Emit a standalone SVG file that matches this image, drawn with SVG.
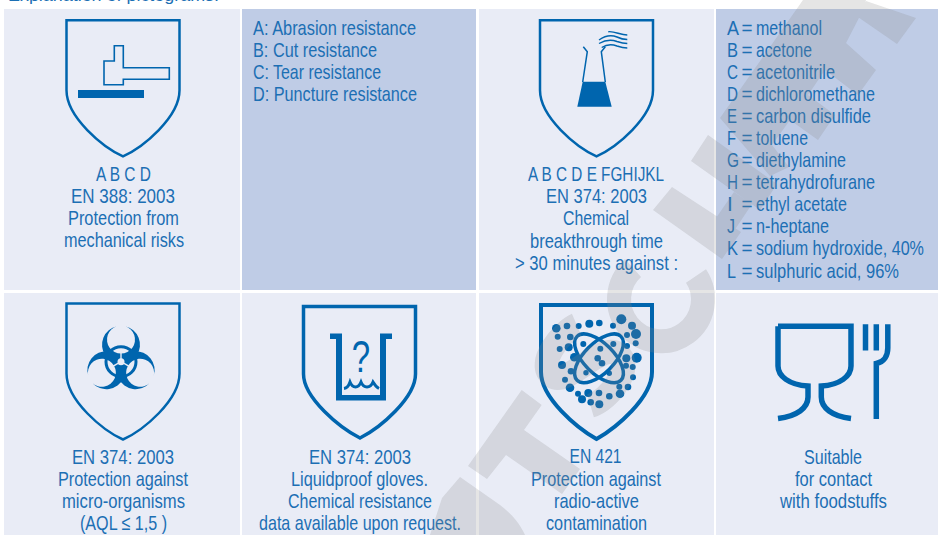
<svg xmlns="http://www.w3.org/2000/svg" width="938" height="535" viewBox="0 0 938 535">
<style>
text{font-family:"Liberation Sans",Arial,sans-serif;font-size:21px;fill:#1c6fb4;font-weight:400}
.m{text-anchor:middle}
.hd{font-size:16px}
.l{fill:#e9ecf6}.d{fill:#bfcce6}
.b{fill:#0065ae;stroke:none}
.o{fill:none;stroke:#0065ae}
.sh{fill:none;stroke:#0065ae;stroke-width:2.5}
.wm{fill:#888}
.ws{fill:none;stroke:#888;stroke-width:24}
</style>
<defs>
<path id="shield" d="M-56.5,0H56.5V70C56.5,97 20,127 0,136C-20,127 -56.5,97 -56.5,70Z"/>
<path id="lobe" d="M-4,-35.500A19,19 0 1 0 4,-35.500A14,14 0 1 1 -4,-35.500Z"/>
</defs>
<rect width="938" height="535" fill="#fff"/>
<text class="hd" x="8" y="1" textLength="211" lengthAdjust="spacingAndGlyphs">Explanation of pictograms:</text>
<g id="cells">
<rect class="l" x="4" y="9" width="236" height="281"/>
<rect class="d" x="242" y="9" width="234" height="281"/>
<rect class="l" x="479" y="9" width="235" height="281"/>
<rect class="d" x="716" y="9" width="222" height="281"/>
<rect class="l" x="4" y="293" width="236" height="242"/>
<rect class="l" x="242" y="293" width="234" height="242"/>
<rect class="l" x="479" y="293" width="235" height="242"/>
<rect class="l" x="716" y="293" width="222" height="242"/>
</g>
<g id="node-mechanical">
<use href="#shield" class="sh" x="123" y="20.300"/>
<path class="o" stroke-width="1.600" d="M114.300,45.700H123.300V67.700H169.300V79.300H123.300V84.700H104V61H114.300Z"/>
<rect class="b" x="78" y="90" width="66" height="8"/>
<text class="m" x="123.500" y="181" textLength="55" lengthAdjust="spacingAndGlyphs">A B C D</text>
<text class="m" x="123" y="203" textLength="104" lengthAdjust="spacingAndGlyphs">EN 388: 2003</text>
<text class="m" x="123.500" y="225" textLength="111" lengthAdjust="spacingAndGlyphs">Protection from</text>
<text class="m" x="124" y="247" textLength="120" lengthAdjust="spacingAndGlyphs">mechanical risks</text>
</g>
<g id="node-mechanical-legend">
<text x="253" y="35" textLength="163" lengthAdjust="spacingAndGlyphs">A: Abrasion resistance</text>
<text x="253" y="57" textLength="124" lengthAdjust="spacingAndGlyphs">B: Cut resistance</text>
<text x="253" y="79" textLength="128" lengthAdjust="spacingAndGlyphs">C: Tear resistance</text>
<text x="253" y="101" textLength="164" lengthAdjust="spacingAndGlyphs">D: Puncture resistance</text>
</g>
<g id="node-chemical">
<use href="#shield" class="sh" x="596.500" y="20.300"/>
<path class="b" d="M582.700,81.700H605.300L611.700,106.700H577.300Z"/>
<path class="o" stroke-width="1.500" d="M582.700,82L587.300,51.700L583.300,46.700M605.300,82L601.300,51.700L605.300,46.700"/>
<path class="o" stroke-width="1.400" d="M608.300,31.700C615,31 620,35 627.300,35M599,40C606,35 612,35 617,37C620,38.500 624,39.500 627.300,39.500M599,43.500C606,39.500 612,39.500 617,41.500C620,42.500 624,43.500 627.300,43.500M601.700,47.500C607,44 612,44 617,46C620,47 624,48 627.300,48"/>
<text class="m" x="596" y="181" textLength="136" lengthAdjust="spacingAndGlyphs">A B C D E FGHIJKL</text>
<text class="m" x="596.500" y="203" textLength="101" lengthAdjust="spacingAndGlyphs">EN 374: 2003</text>
<text class="m" x="596" y="225" textLength="66" lengthAdjust="spacingAndGlyphs">Chemical</text>
<text class="m" x="596.500" y="247.500" textLength="133" lengthAdjust="spacingAndGlyphs">breakthrough time</text>
<text class="m" x="596.500" y="269.500" textLength="163" lengthAdjust="spacingAndGlyphs">&gt; 30 minutes against :</text>
</g>
<g id="node-chemical-legend">
<text x="727" y="35" textLength="12" lengthAdjust="spacingAndGlyphs">A</text><text x="741.500" y="35" textLength="11" lengthAdjust="spacingAndGlyphs">=</text><text x="756" y="35" textLength="66" lengthAdjust="spacingAndGlyphs">methanol</text>
<text x="727" y="57" textLength="11" lengthAdjust="spacingAndGlyphs">B</text><text x="741.500" y="57" textLength="11" lengthAdjust="spacingAndGlyphs">=</text><text x="756" y="57" textLength="56" lengthAdjust="spacingAndGlyphs">acetone</text>
<text x="727" y="79" textLength="11" lengthAdjust="spacingAndGlyphs">C</text><text x="741.500" y="79" textLength="11" lengthAdjust="spacingAndGlyphs">=</text><text x="756" y="79" textLength="79" lengthAdjust="spacingAndGlyphs">acetonitrile</text>
<text x="727" y="101" textLength="11" lengthAdjust="spacingAndGlyphs">D</text><text x="741.500" y="101" textLength="11" lengthAdjust="spacingAndGlyphs">=</text><text x="756" y="101" textLength="119" lengthAdjust="spacingAndGlyphs">dichloromethane</text>
<text x="727" y="123" textLength="10" lengthAdjust="spacingAndGlyphs">E</text><text x="741.500" y="123" textLength="11" lengthAdjust="spacingAndGlyphs">=</text><text x="756" y="123" textLength="115" lengthAdjust="spacingAndGlyphs">carbon disulfide</text>
<text x="727" y="145" textLength="9" lengthAdjust="spacingAndGlyphs">F</text><text x="741.500" y="145" textLength="11" lengthAdjust="spacingAndGlyphs">=</text><text x="756" y="145" textLength="52" lengthAdjust="spacingAndGlyphs">toluene</text>
<text x="727" y="167" textLength="12" lengthAdjust="spacingAndGlyphs">G</text><text x="741.500" y="167" textLength="11" lengthAdjust="spacingAndGlyphs">=</text><text x="756" y="167" textLength="90" lengthAdjust="spacingAndGlyphs">diethylamine</text>
<text x="727" y="189" textLength="11" lengthAdjust="spacingAndGlyphs">H</text><text x="741.500" y="189" textLength="11" lengthAdjust="spacingAndGlyphs">=</text><text x="756" y="189" textLength="119" lengthAdjust="spacingAndGlyphs">tetrahydrofurane</text>
<text x="727" y="211">I</text><text x="741.500" y="211" textLength="11" lengthAdjust="spacingAndGlyphs">=</text><text x="756" y="211" textLength="91" lengthAdjust="spacingAndGlyphs">ethyl acetate</text>
<text x="727" y="233" textLength="8" lengthAdjust="spacingAndGlyphs">J</text><text x="741.500" y="233" textLength="11" lengthAdjust="spacingAndGlyphs">=</text><text x="756" y="233" textLength="73" lengthAdjust="spacingAndGlyphs">n-heptane</text>
<text x="727" y="255" textLength="11" lengthAdjust="spacingAndGlyphs">K</text><text x="741.500" y="255" textLength="11" lengthAdjust="spacingAndGlyphs">=</text><text x="756" y="255" textLength="168" lengthAdjust="spacingAndGlyphs">sodium hydroxide, 40%</text>
<text x="727" y="278" textLength="9" lengthAdjust="spacingAndGlyphs">L</text><text x="741.500" y="278" textLength="11" lengthAdjust="spacingAndGlyphs">=</text><text x="756" y="278" textLength="143" lengthAdjust="spacingAndGlyphs">sulphuric acid, 96%</text>
</g>
<g id="node-micro">
<use href="#shield" class="sh" x="123" y="303.500"/>
<g transform="translate(121,361.700)">
<use href="#lobe" class="b"/>
<use href="#lobe" class="b" transform="rotate(120)"/>
<use href="#lobe" class="b" transform="rotate(240)"/>
<circle r="15" class="o" stroke-width="3"/>
<g fill="#e9ecf6"><circle r="3.500"/>
<path d="M-.7,0V-10H.7V0Z"/><path d="M-.7,0V-10H.7V0Z" transform="rotate(120)"/><path d="M-.7,0V-10H.7V0Z" transform="rotate(240)"/></g>
</g>
<text class="m" x="123" y="464" textLength="102" lengthAdjust="spacingAndGlyphs">EN 374: 2003</text>
<text class="m" x="123" y="486" textLength="130" lengthAdjust="spacingAndGlyphs">Protection against</text>
<text class="m" x="123.500" y="508" textLength="123" lengthAdjust="spacingAndGlyphs">micro-organisms</text>
<text class="m" x="123.500" y="530" textLength="87" lengthAdjust="spacingAndGlyphs">(AQL ≤ 1,5 )</text>
</g>
<g id="node-liquidproof">
<path class="o" stroke-width="3.500" d="M303.500,306.500H415.500V374C415.500,398 380,428 360,438C340,428 303.500,398 303.500,374Z"/>
<path class="b" d="M330,333.500H342V395H380V333.500H392V339H386V400.500H336V339H330Z"/>
<text transform="translate(361,372) scale(.75,1)" class="m" style="font-size:44px;fill:#0065ae">?</text>
<path class="o" stroke-width="3" d="M344,388.500Q348,388 350,382Q352,387 355.500,387Q359,387 361,382Q363,387 367,387Q371,387 373,382Q376,387 379,388.500"/>
<text class="m" x="360" y="464" textLength="102" lengthAdjust="spacingAndGlyphs">EN 374: 2003</text>
<text class="m" x="359.500" y="486" textLength="137" lengthAdjust="spacingAndGlyphs">Liquidproof gloves.</text>
<text class="m" x="360" y="508" textLength="144" lengthAdjust="spacingAndGlyphs">Chemical resistance</text>
<text class="m" x="360" y="530" textLength="202" lengthAdjust="spacingAndGlyphs">data available upon request.</text>
</g>
<g id="node-radiation">
<path class="o" stroke-width="4" d="M541,305H652V372C652,398 616,428 596.500,439C577,428 541,398 541,372Z"/>
<g class="b">
<circle cx="556.300" cy="328.300" r="4.300"/><circle cx="557.700" cy="336.700" r="3"/><circle cx="567" cy="326" r="3.300"/><circle cx="578.700" cy="326" r="3"/><circle cx="589.300" cy="323.700" r="4"/><circle cx="599.300" cy="323" r="3.300"/><circle cx="613" cy="325.700" r="3"/><circle cx="621.300" cy="319.300" r="5"/><circle cx="632" cy="325.700" r="4"/><circle cx="636" cy="334" r="5"/><circle cx="627" cy="335" r="3"/><circle cx="635.700" cy="343.300" r="3"/><circle cx="627" cy="346" r="3"/><circle cx="636.700" cy="357.700" r="5"/><circle cx="626.300" cy="358.300" r="4"/><circle cx="626" cy="365.700" r="3"/><circle cx="632.700" cy="367" r="3"/><circle cx="633" cy="377.300" r="3"/><circle cx="628" cy="387" r="3.300"/><circle cx="619.300" cy="386.700" r="3"/><circle cx="620" cy="393.700" r="4.300"/><circle cx="609.300" cy="396.300" r="3.300"/><circle cx="599" cy="393" r="3.300"/><circle cx="599.300" cy="404.300" r="4"/><circle cx="590.700" cy="402.300" r="3.300"/><circle cx="588.300" cy="393" r="4"/><circle cx="582" cy="399.300" r="4"/><circle cx="578" cy="393.700" r="3"/><circle cx="570" cy="387.700" r="4.300"/><circle cx="565" cy="379.700" r="3"/><circle cx="571" cy="371.300" r="3.300"/><circle cx="562" cy="365" r="4"/><circle cx="574.300" cy="357.300" r="4.300"/><circle cx="559.700" cy="349" r="3"/><circle cx="568.700" cy="347.300" r="4"/><circle cx="570.300" cy="337" r="3.300"/><circle cx="583.300" cy="344" r="3"/><circle cx="600.300" cy="348.700" r="3"/><circle cx="613.300" cy="344" r="3"/><circle cx="597.700" cy="358.300" r="3.300"/><circle cx="602" cy="363.300" r="3.300"/><circle cx="586" cy="372.700" r="2.700"/><circle cx="609.300" cy="373.300" r="2.700"/>
</g>
<g class="o" stroke-width="3.500"><ellipse cx="599" cy="358.300" rx="31" ry="15" transform="rotate(45 599 358.300)"/><ellipse cx="599" cy="358.300" rx="31" ry="15" transform="rotate(-45 599 358.300)"/></g>
<text class="m" x="595.500" y="463" textLength="52" lengthAdjust="spacingAndGlyphs">EN 421</text>
<text class="m" x="596" y="486" textLength="130" lengthAdjust="spacingAndGlyphs">Protection against</text>
<text class="m" x="596.500" y="508" textLength="85" lengthAdjust="spacingAndGlyphs">radio-active</text>
<text class="m" x="596.500" y="530" textLength="101" lengthAdjust="spacingAndGlyphs">contamination</text>
</g>
<g id="node-food">
<path class="o" stroke-width="5.500" d="M778,326.200H851V366C851,376 840,385 821.300,386V397C821.300,408 832,416 851,418.500M778,326.200V366C778,376 789,385 808,386V397C808,408 797,416 778,418.500"/>
<path class="o" stroke-width="5.500" d="M865.500,324.300V350.500M876.300,324.300V350.500M887.800,324.300V348C887.800,356 884,362 876.300,363.500V419"/>
<text class="m" x="833" y="464" textLength="58" lengthAdjust="spacingAndGlyphs">Suitable</text>
<text class="m" x="833.500" y="486" textLength="77" lengthAdjust="spacingAndGlyphs">for contact</text>
<text class="m" x="833.500" y="508" textLength="107" lengthAdjust="spacingAndGlyphs">with foodstuffs</text>
</g>
<g id="watermark" opacity=".22">
<path class="wm" d="M442,498L460,477L500,505C512,514 520,524 525,535H430Z"/>
<path class="wm" d="M521.700,390L541.700,405L524,430L580,469L562,494L506,455L487,479L468,466Z"/>
<path class="ws" transform="matrix(.577,-.817,.817,.577,585,365)" d="M28,-30C15,-38 -28,-42 -28,-20C-28,-2 28,0 28,20C28,42 -15,40 -30,28"/>
<path class="ws" d="M633,268A42,42 0 1 0 696,276"/>
<path class="wm" d="M653,210L672,187L741,232L722,259ZM691,161L708,135L777,184L760,210ZM716,218L734,192L752,204L734,231Z"/>
<path class="wm" d="M720,118L803,0H866L862,12L846,43L876,70L858,95L825,70L808,95L835,115L818,140L790,120L772,145L789,167L770,176Z"/>
<path class="wm" d="M866,1L916,18L897,44L855,15Z"/>
</g>
</svg>
